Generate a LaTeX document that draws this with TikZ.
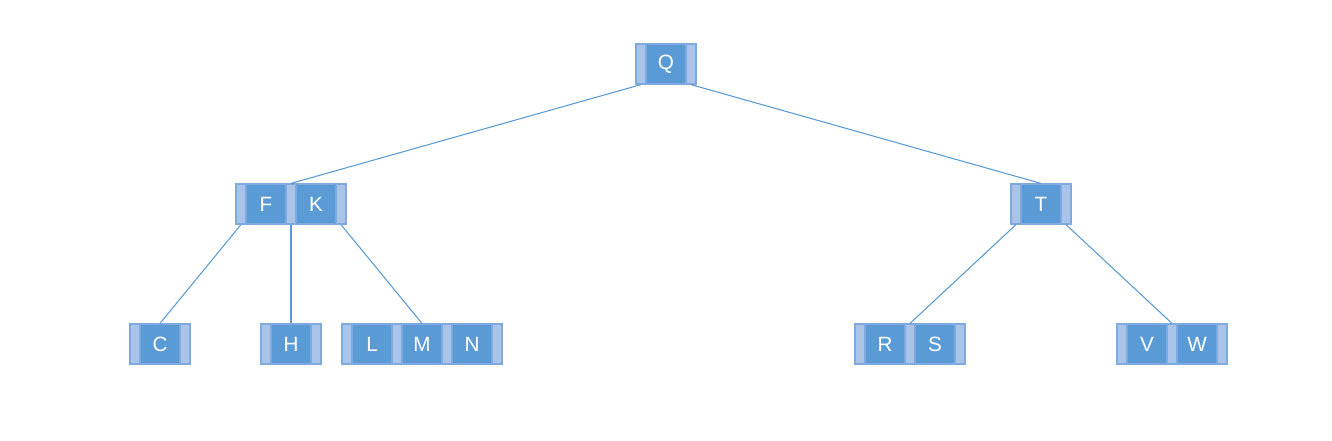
\documentclass[tikz,border=0pt]{standalone}
\usepackage{fontspec}
\setmainfont{Liberation Sans}
\usepackage{tikz}
\usetikzlibrary{positioning}
\definecolor{keyblue}{HTML}{5B9BD5}
\definecolor{slotblue}{HTML}{A9C4E8}
\definecolor{edgeblue}{HTML}{7EAADF}

\begin{document}
\begin{tikzpicture}[
            x=0.75pt,y=-0.75pt,
            cell/.style={draw=edgeblue,line width=0.9pt,rectangle,inner sep=0,minimum height=30pt,node distance=18.75pt},
            slot/.style={cell,fill=slotblue,minimum width=7.5pt},
            key/.style={cell,fill=keyblue,minimum width=30pt,text=white,font=\fontsize{15.5}{18}\selectfont},
            link/.style={draw=keyblue,line width=0.8pt}
          ]
          \useasboundingbox (0,0) rectangle (1332,440);

          %root
          \node[slot] (q0) at (641,64) {};
          \node[key,right of = q0] (q1) {Q};
          \node[slot,right of = q1] (q2) {};

          %level 1
          \node[slot] (fk0) at (241,204) {};
          \node[key,right of = fk0] (fk1) {F};
          \node[slot,right of = fk1] (fk2) {};
          \node[key,right of = fk2] (fk3) {K};
          \node[slot,right of = fk3] (fk4) {};

          \node[slot] (t0) at (1016,204) {};
          \node[key,right of = t0] (t1) {T};
          \node[slot,right of = t1] (t2) {};

          %leaves
          \node[slot] (c0) at (135,344) {};
          \node[key,right of = c0] (c1) {C};
          \node[slot,right of = c1] (c2) {};

          \node[slot] (h0) at (266,344) {};
          \node[key,right of = h0] (h1) {H};
          \node[slot,right of = h1] (h2) {};

          \node[slot] (lmn0) at (347,344) {};
          \node[key,right of = lmn0] (lmn1) {L};
          \node[slot,right of = lmn1] (lmn2) {};
          \node[key,right of = lmn2] (lmn3) {M};
          \node[slot,right of = lmn3] (lmn4) {};
          \node[key,right of = lmn4] (lmn5) {N};
          \node[slot,right of = lmn5] (lmn6) {};

          \node[slot] (rs0) at (860,344) {};
          \node[key,right of = rs0] (rs1) {R};
          \node[slot,right of = rs1] (rs2) {};
          \node[key,right of = rs2] (rs3) {S};
          \node[slot,right of = rs3] (rs4) {};

          \node[slot] (vw0) at (1122,344) {};
          \node[key,right of = vw0] (vw1) {V};
          \node[slot,right of = vw1] (vw2) {};
          \node[key,right of = vw2] (vw3) {W};
          \node[slot,right of = vw3] (vw4) {};

          %pointers
          \path[link]
          (q0.south) edge (fk2.north)
          (q2.south) edge (t1.north)
          (fk0.south) edge (c1.north)
          (fk2.south) edge (h1.north)
          (fk4.south) edge (lmn3.north)
          (t0.south) edge (rs2.north)
          (t2.south) edge (vw2.north)
          ;

      \end{tikzpicture}
\end{document}
